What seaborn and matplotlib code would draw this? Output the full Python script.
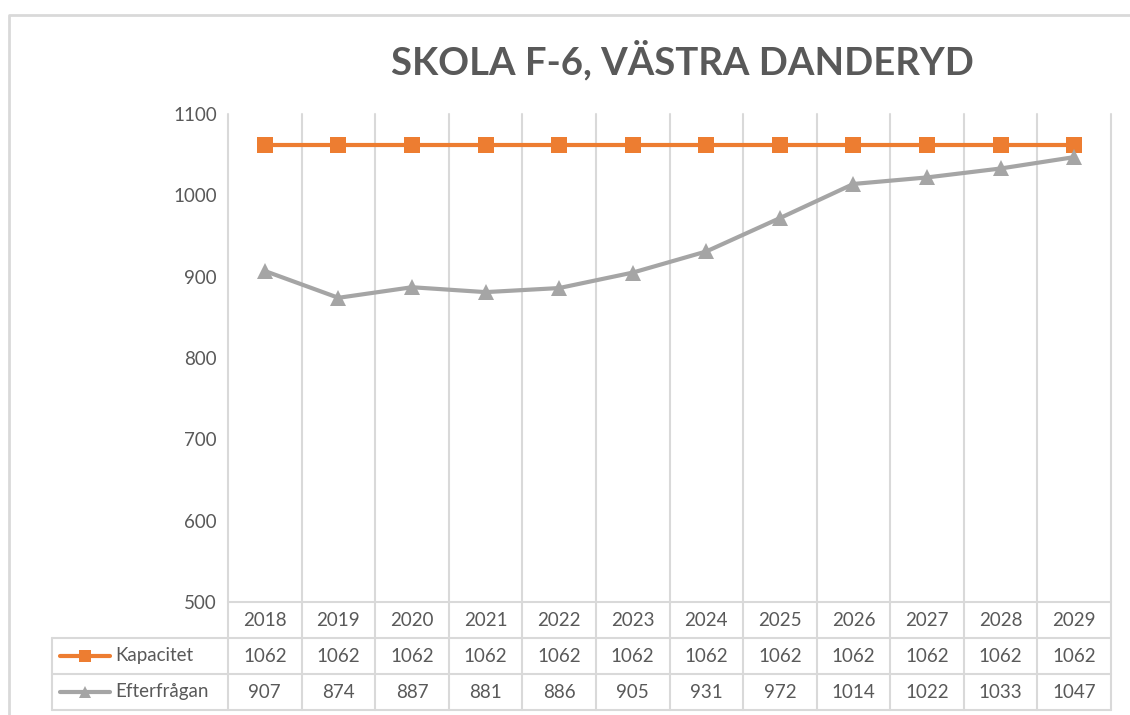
import numpy as np
import pandas as pd
import seaborn as sns
import matplotlib.pyplot as plt
from matplotlib.lines import Line2D
import matplotlib.transforms as mtransforms

# Data
years = ["2018", "2019", "2020", "2021", "2022", "2023",
         "2024", "2025", "2026", "2027", "2028", "2029"]
kapacitet = [1062, 1062, 1062, 1062, 1062, 1062, 1062, 1062, 1062, 1062, 1062, 1062]
efterfragan = [907, 874, 887, 881, 886, 905, 931, 972, 1014, 1022, 1033, 1047]
series_names = ["Kapacitet", "Efterfrågan"]
title = "SKOLA F-6, VÄSTRA DANDERYD"

ORANGE = "#ED7D31"
GRAY = "#A5A5A5"
TEXT = "#595959"
GRID = "#D9D9D9"

sns.set_style("white")
plt.rcParams["font.family"] = ["Lato", "DejaVu Sans"]

df = pd.DataFrame({
    "pos": list(range(len(years))) * 2,
    "value": kapacitet + efterfragan,
    "serie": [series_names[0]] * len(years) + [series_names[1]] * len(years),
})

W, H = 1130, 715
fig = plt.figure(figsize=(W / 100, H / 100), dpi=100)
fig.patch.set_facecolor("white")

def fx(px):
    return px / W

def fy(py):
    return 1 - py / H

ax_left, ax_right, ax_top, ax_bottom = 228, 1111, 114, 602
ax = fig.add_axes([fx(ax_left), fy(ax_bottom), fx(ax_right - ax_left), fy(ax_top) - fy(ax_bottom)])

palette = {series_names[0]: ORANGE, series_names[1]: GRAY}
markers = {series_names[0]: "s", series_names[1]: "^"}
sns.lineplot(data=df, x="pos", y="value", hue="serie", style="serie",
             palette=palette, markers=markers, dashes=False, linewidth=3,
             markersize=11, markeredgewidth=0, legend=False, ax=ax, zorder=3)

n = len(years)
ax.set_xlim(-0.5, n - 0.5)
ax.set_ylim(500, 1100)
ax.set_yticks(np.arange(500, 1101, 100))
ax.set_xticks([])
ax.set_xlabel("")
ax.set_ylabel("")
ax.tick_params(axis="y", length=0, pad=8, labelsize=13.5, labelcolor=TEXT)
for s in ax.spines.values():
    s.set_visible(False)

# table geometry (pixel rows)
row_lines = [602, 638, 674, 710]
table_left = 52
blend = mtransforms.blended_transform_factory(ax.transData, fig.transFigure)

# vertical category lines through plot and table
for b in np.arange(n + 1) - 0.5:
    ax.add_line(Line2D([b, b], [fy(row_lines[-1]), fy(ax_top)], transform=blend,
                       color=GRID, lw=1.5, clip_on=False, zorder=1))

# horizontal table lines
fig.add_artist(Line2D([fx(ax_left), fx(ax_right)], [fy(row_lines[0])] * 2, color=GRID, lw=1.5))
for r in row_lines[1:]:
    fig.add_artist(Line2D([fx(table_left), fx(ax_right)], [fy(r)] * 2, color=GRID, lw=1.5))
fig.add_artist(Line2D([fx(table_left)] * 2, [fy(row_lines[1]), fy(row_lines[-1])], color=GRID, lw=1.5))

# cell texts
rows = [years, [str(v) for v in kapacitet], [str(v) for v in efterfragan]]
for ri, row in enumerate(rows):
    yc = fy((row_lines[ri] + row_lines[ri + 1]) / 2)
    for i, txt in enumerate(row):
        ax.text(i, yc, txt, transform=blend, ha="center", va="center",
                fontsize=13.5, color=TEXT)

# legend keys in table
for ri, (name, col, mk) in enumerate(zip(series_names, [ORANGE, GRAY], ["s", "^"])):
    yc = fy((row_lines[ri + 1] + row_lines[ri + 2]) / 2)
    fig.add_artist(Line2D([fx(60), fx(110)], [yc, yc], color=col, lw=3))
    fig.add_artist(Line2D([fx(85)], [yc], color=col, marker=mk, markersize=9,
                          markeredgewidth=0))
    fig.text(fx(115), yc, name, ha="left", va="center", fontsize=13.5, color=TEXT)

# chart frame
fig.add_artist(Line2D([fx(9), fx(9), 1], [0, fy(15), fy(15)], color=GRID, lw=2))

fig.text(fx(682), fy(74), title, ha="center", va="baseline", fontsize=27.5,
         fontweight="bold", color=TEXT)

fig.savefig("out.png", dpi=100, facecolor="white")
